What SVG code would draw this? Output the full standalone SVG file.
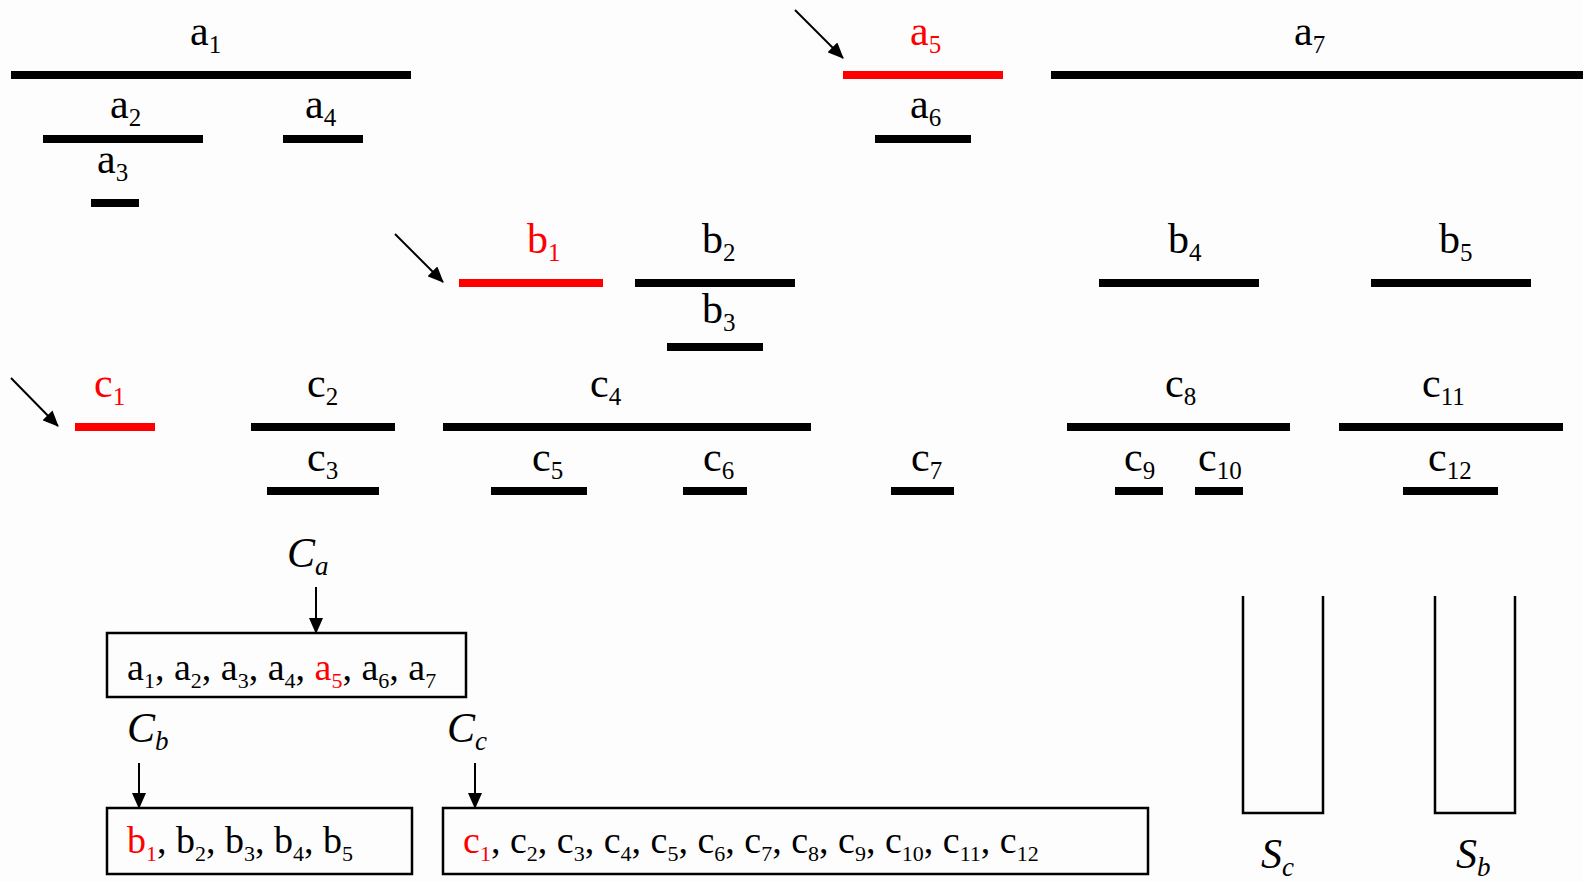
<svg xmlns="http://www.w3.org/2000/svg" width="1583" height="882" viewBox="0 0 1583 882">
<style>
.lbl{font-family:"Liberation Serif","DejaVu Serif",serif;font-size:42px;fill:#000}
.box{font-family:"Liberation Serif","DejaVu Serif",serif;font-size:38px;fill:#000}
.it{font-family:"Liberation Serif","DejaVu Serif",serif;font-size:42px;font-style:italic;fill:#000}
.red{fill:#ff0000}
.bar{fill:#000}
.bar.hl{fill:#ff0000}
.frame{fill:none;stroke:#000;stroke-width:2.5}
.conn{stroke:#000;stroke-width:2;fill:none}
</style>
<defs>
<marker id="ah" markerUnits="userSpaceOnUse" markerWidth="16" markerHeight="14" refX="15" refY="7" orient="auto">
<path d="M0,0 L16,7 L0,14 z" fill="#000"/>
</marker>
</defs>
<rect x="0" y="0" width="1583" height="882" fill="#fdfdfd"/>

<g id="a1"><rect class="bar" x="11" y="71" width="400" height="8"/><text class="lbl" x="190" y="45">a<tspan dy="8" font-size="25">1</tspan></text></g>
<g id="a2"><rect class="bar" x="43" y="135" width="160" height="8"/><text class="lbl" x="110" y="118">a<tspan dy="8" font-size="25">2</tspan></text></g>
<g id="a3"><rect class="bar" x="91" y="199" width="48" height="8"/><text class="lbl" x="97" y="173">a<tspan dy="8" font-size="25">3</tspan></text></g>
<g id="a4"><rect class="bar" x="283" y="135" width="80" height="8"/><text class="lbl" x="305" y="118">a<tspan dy="8" font-size="25">4</tspan></text></g>
<g id="a5"><rect class="bar hl" x="843" y="71" width="160" height="8"/><text class="lbl red" x="910" y="45">a<tspan dy="8" font-size="25">5</tspan></text></g>
<g id="a6"><rect class="bar" x="875" y="135" width="96" height="8"/><text class="lbl" x="910" y="118">a<tspan dy="8" font-size="25">6</tspan></text></g>
<g id="a7"><rect class="bar" x="1051" y="71" width="532" height="8"/><text class="lbl" x="1294" y="45">a<tspan dy="8" font-size="25">7</tspan></text></g>

<g id="b1"><rect class="bar hl" x="459" y="279" width="144" height="8"/><text class="lbl red" x="527" y="253">b<tspan dy="8" font-size="25">1</tspan></text></g>
<g id="b2"><rect class="bar" x="635" y="279" width="160" height="8"/><text class="lbl" x="702" y="253">b<tspan dy="8" font-size="25">2</tspan></text></g>
<g id="b3"><rect class="bar" x="667" y="343" width="96" height="8"/><text class="lbl" x="702" y="323">b<tspan dy="8" font-size="25">3</tspan></text></g>
<g id="b4"><rect class="bar" x="1099" y="279" width="160" height="8"/><text class="lbl" x="1168" y="253">b<tspan dy="8" font-size="25">4</tspan></text></g>
<g id="b5"><rect class="bar" x="1371" y="279" width="160" height="8"/><text class="lbl" x="1439" y="253">b<tspan dy="8" font-size="25">5</tspan></text></g>

<g id="c1"><rect class="bar hl" x="75" y="423" width="80" height="8"/><text class="lbl red" x="94" y="397">c<tspan dy="8" font-size="25">1</tspan></text></g>
<g id="c2"><rect class="bar" x="251" y="423" width="144" height="8"/><text class="lbl" x="307" y="397">c<tspan dy="8" font-size="25">2</tspan></text></g>
<g id="c3"><rect class="bar" x="267" y="487" width="112" height="8"/><text class="lbl" x="307" y="471">c<tspan dy="8" font-size="25">3</tspan></text></g>
<g id="c4"><rect class="bar" x="443" y="423" width="368" height="8"/><text class="lbl" x="590" y="397">c<tspan dy="8" font-size="25">4</tspan></text></g>
<g id="c5"><rect class="bar" x="491" y="487" width="96" height="8"/><text class="lbl" x="532" y="471">c<tspan dy="8" font-size="25">5</tspan></text></g>
<g id="c6"><rect class="bar" x="683" y="487" width="64" height="8"/><text class="lbl" x="703" y="471">c<tspan dy="8" font-size="25">6</tspan></text></g>
<g id="c7"><rect class="bar" x="891" y="487" width="63" height="8"/><text class="lbl" x="911" y="471">c<tspan dy="8" font-size="25">7</tspan></text></g>
<g id="c8"><rect class="bar" x="1067" y="423" width="223" height="8"/><text class="lbl" x="1165" y="397">c<tspan dy="8" font-size="25">8</tspan></text></g>
<g id="c9"><rect class="bar" x="1115" y="487" width="48" height="8"/><text class="lbl" x="1124" y="471">c<tspan dy="8" font-size="25">9</tspan></text></g>
<g id="c10"><rect class="bar" x="1195" y="487" width="48" height="8"/><text class="lbl" x="1198" y="471">c<tspan dy="8" font-size="25">10</tspan></text></g>
<g id="c11"><rect class="bar" x="1339" y="423" width="224" height="8"/><text class="lbl" x="1422" y="397">c<tspan dy="8" font-size="25">11</tspan></text></g>
<g id="c12"><rect class="bar" x="1403" y="487" width="95" height="8"/><text class="lbl" x="1428" y="471">c<tspan dy="8" font-size="25">12</tspan></text></g>

<g id="Ca-label"><text class="it" x="287" y="567">C<tspan dy="8" font-size="27">a</tspan></text></g>
<g id="Cb-label"><text class="it" x="127" y="742">C<tspan dy="8" font-size="27">b</tspan></text></g>
<g id="Cc-label"><text class="it" x="447" y="742">C<tspan dy="8" font-size="27">c</tspan></text></g>

<g id="box-a"><rect class="frame" x="107" y="633" width="359" height="64"/>
<text class="box" x="127" y="680">a<tspan dy="8" font-size="22">1</tspan><tspan dy="-8">, a</tspan><tspan dy="8" font-size="22">2</tspan><tspan dy="-8">, a</tspan><tspan dy="8" font-size="22">3</tspan><tspan dy="-8">, a</tspan><tspan dy="8" font-size="22">4</tspan><tspan dy="-8">, </tspan><tspan class="red">a</tspan><tspan class="red" dy="8" font-size="22">5</tspan><tspan dy="-8">, a</tspan><tspan dy="8" font-size="22">6</tspan><tspan dy="-8">, a</tspan><tspan dy="8" font-size="22">7</tspan></text></g>

<g id="box-b"><rect class="frame" x="107" y="808" width="305" height="66"/>
<text class="box" x="127" y="853"><tspan class="red">b</tspan><tspan class="red" dy="8" font-size="22">1</tspan><tspan dy="-8">, b</tspan><tspan dy="8" font-size="22">2</tspan><tspan dy="-8">, b</tspan><tspan dy="8" font-size="22">3</tspan><tspan dy="-8">, b</tspan><tspan dy="8" font-size="22">4</tspan><tspan dy="-8">, b</tspan><tspan dy="8" font-size="22">5</tspan></text></g>

<g id="box-c"><rect class="frame" x="443" y="808" width="705" height="66"/>
<text class="box" x="463" y="853"><tspan class="red">c</tspan><tspan class="red" dy="8" font-size="22">1</tspan><tspan dy="-8">, c</tspan><tspan dy="8" font-size="22">2</tspan><tspan dy="-8">, c</tspan><tspan dy="8" font-size="22">3</tspan><tspan dy="-8">, c</tspan><tspan dy="8" font-size="22">4</tspan><tspan dy="-8">, c</tspan><tspan dy="8" font-size="22">5</tspan><tspan dy="-8">, c</tspan><tspan dy="8" font-size="22">6</tspan><tspan dy="-8">, c</tspan><tspan dy="8" font-size="22">7</tspan><tspan dy="-8">, c</tspan><tspan dy="8" font-size="22">8</tspan><tspan dy="-8">, c</tspan><tspan dy="8" font-size="22">9</tspan><tspan dy="-8">, c</tspan><tspan dy="8" font-size="22">10</tspan><tspan dy="-8">, c</tspan><tspan dy="8" font-size="22">11</tspan><tspan dy="-8">, c</tspan><tspan dy="8" font-size="22">12</tspan></text></g>

<g id="stack-Sc"><polyline class="frame" stroke-width="3" points="1243,596 1243,813 1323,813 1323,596"/><text class="it" x="1261" y="868">S<tspan dy="8" font-size="27">c</tspan></text></g>
<g id="stack-Sb"><polyline class="frame" stroke-width="3" points="1435,596 1435,813 1515,813 1515,596"/><text class="it" x="1456" y="868">S<tspan dy="8" font-size="27">b</tspan></text></g>

<g id="connectors">
<line class="conn" x1="795" y1="10" x2="843" y2="58" marker-end="url(#ah)"/>
<line class="conn" x1="395" y1="234" x2="443" y2="282" marker-end="url(#ah)"/>
<line class="conn" x1="11" y1="378" x2="58" y2="426" marker-end="url(#ah)"/>
<line class="conn" x1="316" y1="587" x2="316" y2="633" marker-end="url(#ah)"/>
<line class="conn" x1="139" y1="763" x2="139" y2="808" marker-end="url(#ah)"/>
<line class="conn" x1="475" y1="763" x2="475" y2="808" marker-end="url(#ah)"/>
</g>
</svg>
